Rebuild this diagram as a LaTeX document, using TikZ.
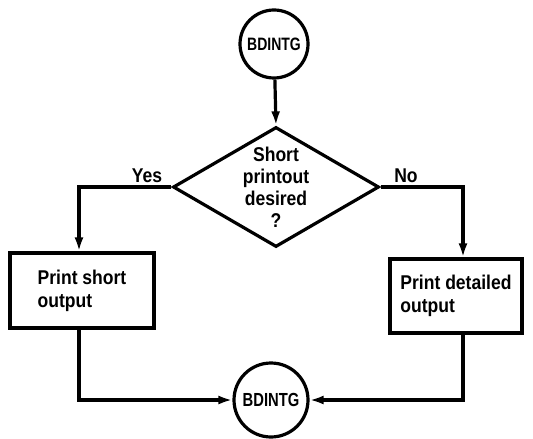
\documentclass[tikz,border=0pt]{standalone}
\usepackage{fontspec}
\setmainfont{Liberation Sans}[FakeStretch=0.88]
\newfontfamily\circfont{Liberation Sans}[FakeStretch=0.78]
\usetikzlibrary{shapes.geometric,arrows.meta}
\begin{document}
\begin{tikzpicture}[x=1bp,y=-1bp,
  every node/.style={font=\fontsize{20}{23}\selectfont\bfseries},
  conn/.style={line width=3.2bp,draw=black},
  arr/.style={conn,-{Latex[length=14bp,width=9bp]}},
  term/.style={circle,draw,line width=3.2bp,inner sep=0pt,minimum size=#1},
  procbox/.style={rectangle,draw,line width=3.2bp,align=left,inner sep=0pt},
  decbox/.style={diamond,draw,line width=3.2bp,inner sep=0pt,aspect=1.72,minimum width=206bp,minimum height=120bp},
  dectxt/.style={align=center,inner sep=0pt,font=\fontsize{20}{22}\selectfont\bfseries},
  lab/.style={inner sep=0pt}]
\useasboundingbox (0,0) rectangle (533,439);
\node[term=68bp,font=\circfont\fontsize{18}{20}\selectfont\bfseries] (top) at (274,44) {BDINTG};
\node[decbox] (dec) at (276,187) {};
\node[dectxt] (dectext) at (dec.center) {Short\\printout\\desired\\?};
\node[procbox,minimum width=144bp,minimum height=75bp] (lb) at (82,290.5) {Print short\\output};
\node[procbox,minimum width=132bp,minimum height=74bp] (rb) at (456,296) {Print detailed\\output};
\node[term=74bp,font=\circfont\fontsize{19}{21}\selectfont\bfseries] (bot) at (271,400) {BDINTG};
\node[lab] (yes) at (147,176) {Yes};
\node[lab] (no) at (406,176) {No};
\draw[arr] (top) -- (dec.north);
\draw[arr] (dec.west) -| ([xshift=-3bp]lb.north);
\draw[arr] (dec.east) -| ([xshift=7bp]rb.north);
\draw[arr] ([xshift=-3bp]lb.south) |- (bot.west);
\draw[arr] ([xshift=7bp]rb.south) |- (bot.east);
\end{tikzpicture}
\end{document}
